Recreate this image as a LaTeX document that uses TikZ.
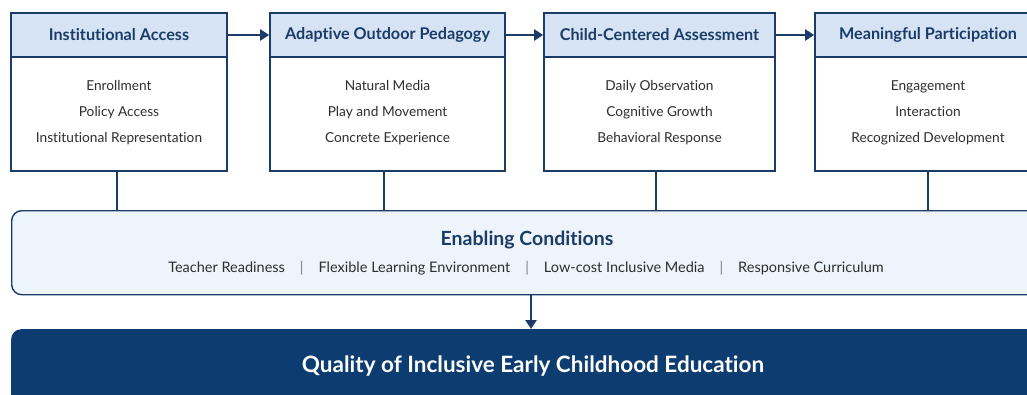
\documentclass[tikz,border=0pt]{standalone}
\usepackage{fontspec}
\setmainfont{Lato}[Ligatures=NoCommon]
\usetikzlibrary{arrows.meta}
\definecolor{navy}{HTML}{1C3C68}
\definecolor{headfill}{HTML}{D5E3F4}
\definecolor{bandfill}{HTML}{EEF4FB}
\definecolor{deepblue}{HTML}{0D3C70}
\definecolor{bodytext}{HTML}{2E2E2E}
\tikzset{
  stagebox/.style={draw=navy, line width=1.6pt, fill=white, minimum height=158pt, inner sep=0pt},
  stagehead/.style={draw=navy, line width=1.6pt, fill=headfill, minimum height=44pt, inner sep=0pt,
    font=\fontsize{16.2}{19}\selectfont\bfseries, text=navy},
  stagebody/.style={align=center, font=\fontsize{13.7}{26}\selectfont, text=bodytext},
  flow/.style={draw=navy, line width=2.8pt, -{Triangle[length=9pt,width=11pt]}},
  link/.style={draw=navy, line width=2.8pt},
}
\begin{document}
\begin{tikzpicture}[x=1pt,y=-1pt]
\useasboundingbox (0,0) rectangle (1027,394);
\clip (0,0) rectangle (1027,394);
\fill[white] (0,0) rectangle (1027,394);

% four stages
\node[stagebox, minimum width=216pt] (s1) at (119,92) {};
\node[stagebox, minimum width=235pt] (s2) at (387.5,92) {};
\node[stagebox, minimum width=231pt] (s3) at (659.5,92) {};
\node[stagebox, minimum width=226pt] (s4) at (928,92) {};

\node[stagehead, minimum width=216pt, anchor=north] (h1) at (s1.north) {Institutional Access};
\node[stagehead, minimum width=235pt, anchor=north] (h2) at (s2.north) {Adaptive Outdoor Pedagogy};
\node[stagehead, minimum width=231pt, anchor=north] (h3) at (s3.north) {Child-Centered Assessment};
\node[stagehead, minimum width=226pt, anchor=north] (h4) at (s4.north) {Meaningful Participation};

\node[stagebody] (b1) at (119,113) {Enrollment\\Policy Access\\Institutional Representation};
\node[stagebody] (b2) at (387.5,113) {Natural Media\\Play and Movement\\Concrete Experience};
\node[stagebody] (b3) at (659.5,113) {Daily Observation\\Cognitive Growth\\Behavioral Response};
\node[stagebody] (b4) at (928,113) {Engagement\\Interaction\\Recognized Development};

% arrows between stages
\draw[flow] (h1.east) -- (h2.west);
\draw[flow] (h2.east) -- (h3.west);
\draw[flow] (h3.east) -- (h4.west);

% enabling conditions band
\node[draw=navy, line width=1.4pt, fill=bandfill, rounded corners=10pt,
      minimum width=1040pt, minimum height=84pt, inner sep=0pt, anchor=north west] (en) at (11,210) {};
\node[font=\fontsize{19.5}{23}\selectfont\bfseries, text=navy] (entitle) at (527,240) {Enabling Conditions};
\node[font=\fontsize{14.5}{17}\selectfont, text=bodytext] (enitems) at (526,268)
  {Teacher Readiness\hspace{15pt}{\color{gray}|}\hspace{15pt}Flexible Learning Environment\hspace{15pt}{\color{gray}|}\hspace{15pt}Low-cost Inclusive Media\hspace{15pt}{\color{gray}|}\hspace{15pt}Responsive Curriculum};

% links from stages to the band
\draw[link] (s1.south -| 117,0) -- (en.north -| 117,0);
\draw[link] (s2.south -| 384,0) -- (en.north -| 384,0);
\draw[link] (s3.south -| 656,0) -- (en.north -| 656,0);
\draw[link] (s4.south -| 928,0) -- (en.north -| 928,0);

% outcome
\node[fill=deepblue, rounded corners=10pt, minimum width=1040pt, minimum height=90pt,
      inner sep=0pt, anchor=north west] (out) at (11,329) {};
\node[font=\fontsize{22.5}{26}\selectfont\bfseries, text=white] (outtitle) at (533,366)
  {Quality of Inclusive Early Childhood Education};

\draw[flow] (en.south -| 531,0) -- (out.north -| 531,0);
\end{tikzpicture}
\end{document}
